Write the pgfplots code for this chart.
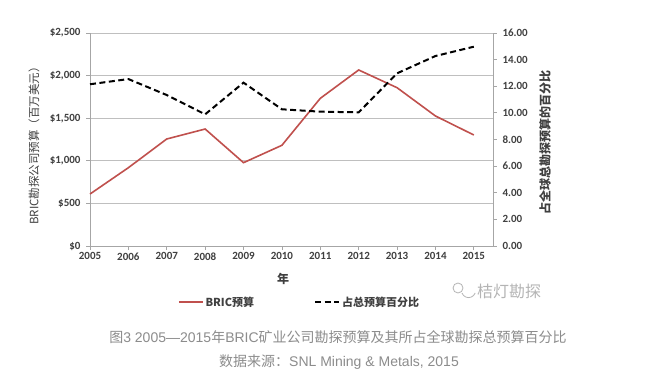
\documentclass[border=0pt]{standalone}
\usepackage{pgfplots}
\pgfplotsset{compat=1.18}
\usepackage{fontspec}
\setmainfont{Carlito}
\newfontfamily\cjk{Noto Sans CJK SC}
\newfontfamily\lib{Liberation Sans}
\definecolor{bricred}{HTML}{C0504D}
\definecolor{ticktext}{HTML}{404040}
\definecolor{gridc}{HTML}{BFBFBF}
\definecolor{axisc}{HTML}{A6A6A6}
\definecolor{capc}{HTML}{8C8C8C}
\definecolor{wmc}{HTML}{B4B4B4}
\begin{document}
\begin{tikzpicture}[x=1pt,y=1pt]
\path[fill=white] (0,0) rectangle (647,388);
\begin{axis}[
  at={(90pt,142pt)}, anchor=south west, scale only axis,
  width=403pt, height=213pt,
  xmin=2005, xmax=2015.5, ymin=0, ymax=2500,
  axis x line*=bottom, axis y line*=left,
  axis line style={axisc, line width=0.8pt, -},
  xtick={2005,2006,2007,2008,2009,2010,2011,2012,2013,2014,2015},
  xticklabels={2005,2006,2007,2008,2009,2010,2011,2012,2013,2014,2015},
  ytick={0,500,1000,1500,2000,2500},
  yticklabels={\$0,\$500,{\$1,000},{\$1,500},{\$2,000},{\$2,500}},
  ymajorgrids, grid style={gridc, line width=0.8pt},
  tick align=outside, major tick length=4pt,
  tick style={axisc, line width=0.8pt},
  tick label style={font=\fontsize{11}{13}\selectfont\bfseries, text=ticktext},
  xticklabel style={yshift=1pt},
  yticklabel style={xshift=-2pt},
  clip=false,
]
\addplot[bricred, line width=1.6pt] coordinates {
  (2005,610) (2006,919) (2007,1256) (2008,1373) (2009,978) (2010,1182)
  (2011,1733) (2012,2066) (2013,1858) (2014,1526) (2015,1303)};
\end{axis}
\begin{axis}[
  at={(90pt,142pt)}, anchor=south west, scale only axis,
  width=403pt, height=213pt,
  xmin=2005, xmax=2015.5, ymin=0, ymax=16,
  axis x line=none, axis y line*=right,
  axis line style={axisc, line width=0.8pt, -},
  ytick={0,2,4,6,8,10,12,14,16},
  yticklabels={0.00,2.00,4.00,6.00,8.00,10.00,12.00,14.00,16.00},
  tick align=outside, major tick length=4pt,
  tick style={axisc, line width=0.8pt},
  tick label style={font=\fontsize{11}{13}\selectfont\bfseries, text=ticktext},
  yticklabel style={xshift=2pt},
  clip=false,
  legend columns=2,
  legend style={draw=none, fill=none, at={(0.52,-0.263)}, anchor=center,
    font=\cjk\fontsize{11}{13}\selectfont\bfseries, text=ticktext,
    /tikz/every even column/.append style={column sep=58pt},
    inner sep=0pt},
  legend image code/.code={\draw[#1] (0pt,0pt) -- (24pt,0pt);},
]
\addlegendimage{bricred, line width=1.6pt}
\addlegendentry{BRIC预算}
\addplot[black, line width=2pt, dash pattern=on 6pt off 3.5pt] coordinates {
  (2005,12.15) (2006,12.54) (2007,11.34) (2008,9.89) (2009,12.27) (2010,10.27)
  (2011,10.09) (2012,10.04) (2013,12.97) (2014,14.27) (2015,14.97)};
\addlegendentry{占总预算百分比}
\end{axis}
\node[rotate=90, text=ticktext, font=\cjk\fontsize{11.5}{13}\selectfont] at (34,245) {BRIC勘探公司预算（百万美元）};
\node[rotate=90, text=ticktext, font=\cjk\fontsize{12}{14}\selectfont\bfseries] at (545,245) {占全球总勘探预算的百分比};
\node[text=ticktext, font=\cjk\fontsize{12}{14}\selectfont\bfseries] at (283,109) {年};
\node[text=wmc, font=\cjk\fontsize{16}{18}\selectfont] at (509,97) {桔灯勘探};
\draw[wmc, line width=0.8pt] (462,95) arc (200:340:7) ;
\draw[wmc, line width=0.8pt] (458,100) circle (5);
\node[text=capc, font=\fontsize{14}{16}\selectfont] at (338,51) {\cjk 图\lib 3 2005—2015\cjk 年\lib BRIC\cjk 矿业公司勘探预算及其所占全球勘探总预算百分比};
\node[text=capc, font=\fontsize{14}{16}\selectfont] at (339,26) {\cjk 数据来源：\lib SNL Mining \& Metals, 2015};
\end{tikzpicture}
\end{document}
